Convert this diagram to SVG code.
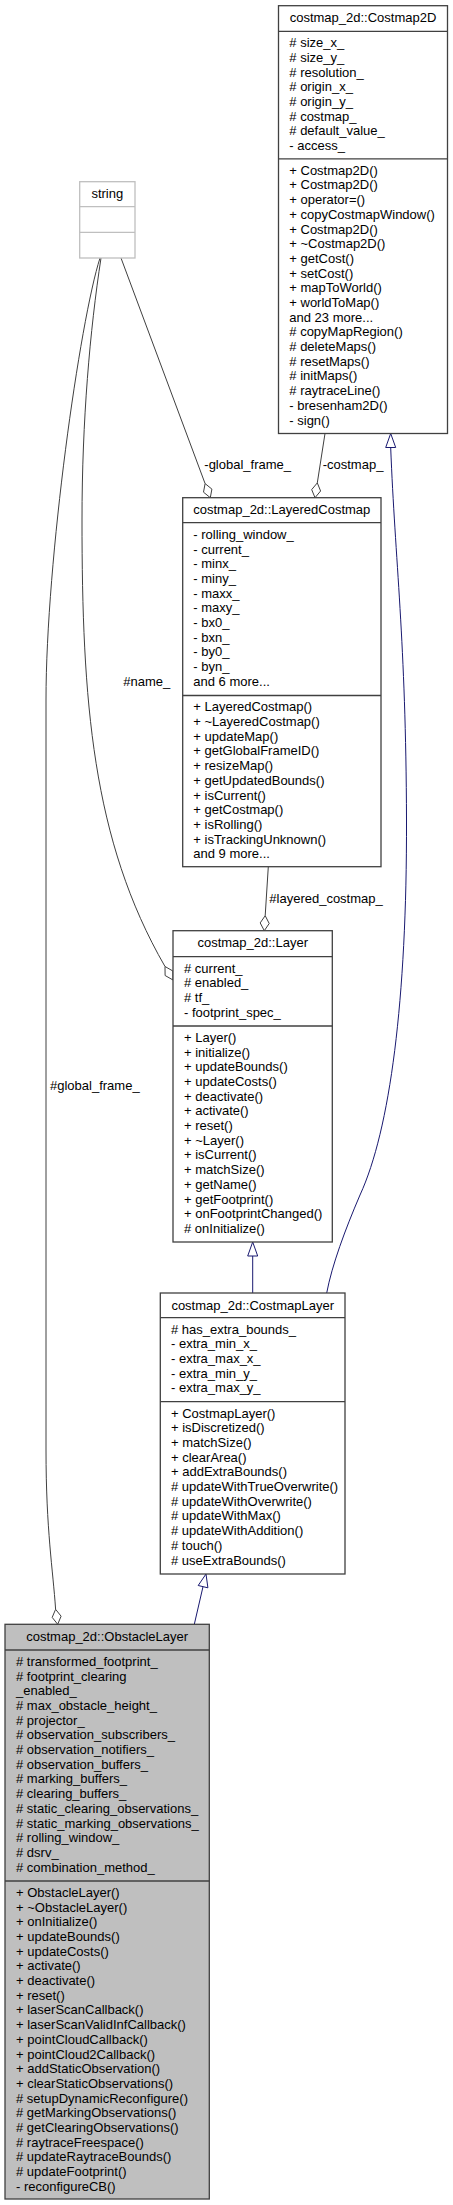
<svg xmlns="http://www.w3.org/2000/svg" width="453" height="2205" viewBox="0 0 453 2205">
<style>
text{font-family:"Liberation Sans",Arial,Helvetica,sans-serif;font-size:13px;fill:#000}
.t{text-anchor:middle}
.box{fill:#fff;stroke:#404040;stroke-width:1.3}
.sep{stroke:#404040;stroke-width:1.3}
.gbox{fill:#fff;stroke:#bfbfbf;stroke-width:1.3}
.gsep{stroke:#bfbfbf;stroke-width:1.3}
.cur{fill:#bfbfbf;stroke:#404040;stroke-width:1.3}
.agg{fill:none;stroke:#404040;stroke-width:1}
.dia{fill:#fff;stroke:#404040;stroke-width:1}
.inh{fill:none;stroke:#191970;stroke-width:1}
.tri{fill:#fff;stroke:#191970;stroke-width:1}
</style>
<rect width="453" height="2205" fill="#fff"/>
<g id="connectors">
  <path class="agg" d="M100,258 C80,320 46,560 46,700 L46,1450 C46,1530 53,1570 55.6,1609.3"/>
  <polygon class="dia" points="57.7,1624.3 61.1,1616.2 55.6,1609.3 52.2,1617.4"/>
  <text x="50" y="1090">#global_frame_</text>
  <path class="agg" d="M101,258 C90,330 82,420 82,520 C82,700 92,840 165,966.5"/>
  <polygon class="dia" points="173,980 172.9,971 165,966.5 165.1,975.5"/>
  <text x="123.3" y="686">#name_</text>
  <path class="agg" d="M121,258 L205.1,483.6"/>
  <polygon class="dia" points="210.3,497.7 211.9,489.1 205.1,483.6 203.5,492.2"/>
  <text x="204.3" y="469">-global_frame_</text>
  <path class="agg" d="M325,433.5 L317.3,482.9"/>
  <polygon class="dia" points="315,497.7 320.6,491 317.3,482.9 311.7,489.6"/>
  <text x="322.7" y="469">-costmap_</text>
  <path class="agg" d="M268.3,866.7 L265.2,915.7"/>
  <polygon class="dia" points="264.3,930.7 269.2,923.5 265.2,915.7 260.2,922.9"/>
  <text x="269.3" y="902.7">#layered_costmap_</text>
  <path class="inh" d="M252.7,1256 L252.7,1293"/>
  <polygon class="tri" points="252.7,1242 257.7,1256 247.7,1256"/>
  <path class="inh" d="M390.7,447.5 C395,560 406,640 406.5,820 C407,1000 390,1130 360,1195 C345,1230 332,1265 326.7,1293"/>
  <polygon class="tri" points="390.7,433.5 395.7,447.5 385.7,447.5"/>
  <path class="inh" d="M194.3,1624.3 L203,1586.7"/>
  <polygon class="tri" points="206,1574 207.9,1587.8 198.2,1585.5"/>
</g>
<g id="Costmap2D">
  <rect class="box" x="278.5" y="5.7" width="169" height="427.8"/>
  <line class="sep" x1="278.5" y1="31.3" x2="447.5" y2="31.3"/>
  <line class="sep" x1="278.5" y1="158.9" x2="447.5" y2="158.9"/>
  <text class="t" x="363" y="22">costmap_2d::Costmap2D</text>
  <text x="289.3" y="47.1"><tspan x="289.3">#  size_x_</tspan><tspan x="289.3" dy="14.7">#  size_y_</tspan><tspan x="289.3" dy="14.7">#  resolution_</tspan><tspan x="289.3" dy="14.7">#  origin_x_</tspan><tspan x="289.3" dy="14.7">#  origin_y_</tspan><tspan x="289.3" dy="14.7">#  costmap_</tspan><tspan x="289.3" dy="14.7">#  default_value_</tspan><tspan x="289.3" dy="14.7">-  access_</tspan></text>
  <text x="289.3" y="174.7"><tspan x="289.3">+  Costmap2D()</tspan><tspan x="289.3" dy="14.7">+  Costmap2D()</tspan><tspan x="289.3" dy="14.7">+  operator=()</tspan><tspan x="289.3" dy="14.7">+  copyCostmapWindow()</tspan><tspan x="289.3" dy="14.7">+  Costmap2D()</tspan><tspan x="289.3" dy="14.7">+  ~Costmap2D()</tspan><tspan x="289.3" dy="14.7">+  getCost()</tspan><tspan x="289.3" dy="14.7">+  setCost()</tspan><tspan x="289.3" dy="14.7">+  mapToWorld()</tspan><tspan x="289.3" dy="14.7">+  worldToMap()</tspan><tspan x="289.3" dy="14.7">and 23 more...</tspan><tspan x="289.3" dy="14.7">#  copyMapRegion()</tspan><tspan x="289.3" dy="14.7">#  deleteMaps()</tspan><tspan x="289.3" dy="14.7">#  resetMaps()</tspan><tspan x="289.3" dy="14.7">#  initMaps()</tspan><tspan x="289.3" dy="14.7">#  raytraceLine()</tspan><tspan x="289.3" dy="14.7">-  bresenham2D()</tspan><tspan x="289.3" dy="14.7">-  sign()</tspan></text>
</g>
<g id="string">
  <rect class="gbox" x="79.7" y="181.7" width="55.3" height="76.3"/>
  <line class="gsep" x1="79.7" y1="206.7" x2="135" y2="206.7"/>
  <line class="gsep" x1="79.7" y1="232.3" x2="135" y2="232.3"/>
  <text class="t" x="107.3" y="198">string</text>
</g>
<g id="LayeredCostmap">
  <rect class="box" x="182.7" y="497.7" width="198.3" height="369"/>
  <line class="sep" x1="182.7" y1="522.7" x2="381" y2="522.7"/>
  <line class="sep" x1="182.7" y1="695.5" x2="381" y2="695.5"/>
  <text class="t" x="281.8" y="514.2">costmap_2d::LayeredCostmap</text>
  <text x="193.3" y="538.8"><tspan x="193.3">-  rolling_window_</tspan><tspan x="193.3" dy="14.7">-  current_</tspan><tspan x="193.3" dy="14.7">-  minx_</tspan><tspan x="193.3" dy="14.7">-  miny_</tspan><tspan x="193.3" dy="14.7">-  maxx_</tspan><tspan x="193.3" dy="14.7">-  maxy_</tspan><tspan x="193.3" dy="14.7">-  bx0_</tspan><tspan x="193.3" dy="14.7">-  bxn_</tspan><tspan x="193.3" dy="14.7">-  by0_</tspan><tspan x="193.3" dy="14.7">-  byn_</tspan><tspan x="193.3" dy="14.7">and 6 more...</tspan></text>
  <text x="193.3" y="711.3"><tspan x="193.3">+  LayeredCostmap()</tspan><tspan x="193.3" dy="14.7">+  ~LayeredCostmap()</tspan><tspan x="193.3" dy="14.7">+  updateMap()</tspan><tspan x="193.3" dy="14.7">+  getGlobalFrameID()</tspan><tspan x="193.3" dy="14.7">+  resizeMap()</tspan><tspan x="193.3" dy="14.7">+  getUpdatedBounds()</tspan><tspan x="193.3" dy="14.7">+  isCurrent()</tspan><tspan x="193.3" dy="14.7">+  getCostmap()</tspan><tspan x="193.3" dy="14.7">+  isRolling()</tspan><tspan x="193.3" dy="14.7">+  isTrackingUnknown()</tspan><tspan x="193.3" dy="14.7">and 9 more...</tspan></text>
</g>
<g id="Layer">
  <rect class="box" x="173" y="930.7" width="159.3" height="311.3"/>
  <line class="sep" x1="173" y1="956.7" x2="332.3" y2="956.7"/>
  <line class="sep" x1="173" y1="1026" x2="332.3" y2="1026"/>
  <text class="t" x="252.7" y="947.2">costmap_2d::Layer</text>
  <text x="184" y="972.5"><tspan x="184">#  current_</tspan><tspan x="184" dy="14.7">#  enabled_</tspan><tspan x="184" dy="14.7">#  tf_</tspan><tspan x="184" dy="14.7">-  footprint_spec_</tspan></text>
  <text x="184" y="1041.8"><tspan x="184">+  Layer()</tspan><tspan x="184" dy="14.7">+  initialize()</tspan><tspan x="184" dy="14.7">+  updateBounds()</tspan><tspan x="184" dy="14.7">+  updateCosts()</tspan><tspan x="184" dy="14.7">+  deactivate()</tspan><tspan x="184" dy="14.7">+  activate()</tspan><tspan x="184" dy="14.7">+  reset()</tspan><tspan x="184" dy="14.7">+  ~Layer()</tspan><tspan x="184" dy="14.7">+  isCurrent()</tspan><tspan x="184" dy="14.7">+  matchSize()</tspan><tspan x="184" dy="14.7">+  getName()</tspan><tspan x="184" dy="14.7">+  getFootprint()</tspan><tspan x="184" dy="14.7">+  onFootprintChanged()</tspan><tspan x="184" dy="14.7">#  onInitialize()</tspan></text>
</g>
<g id="CostmapLayer">
  <rect class="box" x="160.3" y="1293" width="184.7" height="281"/>
  <line class="sep" x1="160.3" y1="1317.7" x2="345" y2="1317.7"/>
  <line class="sep" x1="160.3" y1="1401.7" x2="345" y2="1401.7"/>
  <text class="t" x="252.7" y="1309.5">costmap_2d::CostmapLayer</text>
  <text x="171" y="1333.5"><tspan x="171">#  has_extra_bounds_</tspan><tspan x="171" dy="14.7">-  extra_min_x_</tspan><tspan x="171" dy="14.7">-  extra_max_x_</tspan><tspan x="171" dy="14.7">-  extra_min_y_</tspan><tspan x="171" dy="14.7">-  extra_max_y_</tspan></text>
  <text x="171" y="1417.5"><tspan x="171">+  CostmapLayer()</tspan><tspan x="171" dy="14.7">+  isDiscretized()</tspan><tspan x="171" dy="14.7">+  matchSize()</tspan><tspan x="171" dy="14.7">+  clearArea()</tspan><tspan x="171" dy="14.7">+  addExtraBounds()</tspan><tspan x="171" dy="14.7">#  updateWithTrueOverwrite()</tspan><tspan x="171" dy="14.7">#  updateWithOverwrite()</tspan><tspan x="171" dy="14.7">#  updateWithMax()</tspan><tspan x="171" dy="14.7">#  updateWithAddition()</tspan><tspan x="171" dy="14.7">#  touch()</tspan><tspan x="171" dy="14.7">#  useExtraBounds()</tspan></text>
</g>
<g id="ObstacleLayer">
  <rect class="cur" x="5" y="1624.3" width="204.3" height="574.7"/>
  <line class="sep" x1="5" y1="1650" x2="209.3" y2="1650"/>
  <line class="sep" x1="5" y1="1881" x2="209.3" y2="1881"/>
  <text class="t" x="107.2" y="1640.8">costmap_2d::ObstacleLayer</text>
  <text x="16" y="1665.8"><tspan x="16">#  transformed_footprint_</tspan><tspan x="16" dy="14.7">#  footprint_clearing</tspan><tspan x="16" dy="14.7">_enabled_</tspan><tspan x="16" dy="14.7">#  max_obstacle_height_</tspan><tspan x="16" dy="14.7">#  projector_</tspan><tspan x="16" dy="14.7">#  observation_subscribers_</tspan><tspan x="16" dy="14.7">#  observation_notifiers_</tspan><tspan x="16" dy="14.7">#  observation_buffers_</tspan><tspan x="16" dy="14.7">#  marking_buffers_</tspan><tspan x="16" dy="14.7">#  clearing_buffers_</tspan><tspan x="16" dy="14.7">#  static_clearing_observations_</tspan><tspan x="16" dy="14.7">#  static_marking_observations_</tspan><tspan x="16" dy="14.7">#  rolling_window_</tspan><tspan x="16" dy="14.7">#  dsrv_</tspan><tspan x="16" dy="14.7">#  combination_method_</tspan></text>
  <text x="16" y="1896.8"><tspan x="16">+  ObstacleLayer()</tspan><tspan x="16" dy="14.7">+  ~ObstacleLayer()</tspan><tspan x="16" dy="14.7">+  onInitialize()</tspan><tspan x="16" dy="14.7">+  updateBounds()</tspan><tspan x="16" dy="14.7">+  updateCosts()</tspan><tspan x="16" dy="14.7">+  activate()</tspan><tspan x="16" dy="14.7">+  deactivate()</tspan><tspan x="16" dy="14.7">+  reset()</tspan><tspan x="16" dy="14.7">+  laserScanCallback()</tspan><tspan x="16" dy="14.7">+  laserScanValidInfCallback()</tspan><tspan x="16" dy="14.7">+  pointCloudCallback()</tspan><tspan x="16" dy="14.7">+  pointCloud2Callback()</tspan><tspan x="16" dy="14.7">+  addStaticObservation()</tspan><tspan x="16" dy="14.7">+  clearStaticObservations()</tspan><tspan x="16" dy="14.7">#  setupDynamicReconfigure()</tspan><tspan x="16" dy="14.7">#  getMarkingObservations()</tspan><tspan x="16" dy="14.7">#  getClearingObservations()</tspan><tspan x="16" dy="14.7">#  raytraceFreespace()</tspan><tspan x="16" dy="14.7">#  updateRaytraceBounds()</tspan><tspan x="16" dy="14.7">#  updateFootprint()</tspan><tspan x="16" dy="14.7">-  reconfigureCB()</tspan></text>
</g>
</svg>
